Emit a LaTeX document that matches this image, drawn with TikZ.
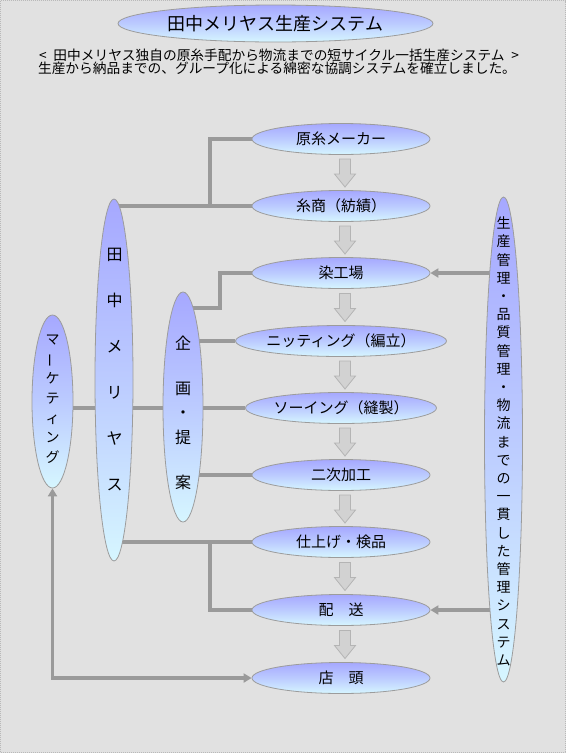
\documentclass[tikz,border=0pt]{standalone}
\usepackage{fontspec}
\usepackage{graphicx}
\newfontfamily\jp{Noto Sans CJK JP}
\usetikzlibrary{shapes.geometric,arrows.meta,calc,backgrounds}
\definecolor{bgc}{HTML}{E1E1E1}
\definecolor{topc}{HTML}{A6A8FF}
\definecolor{botc}{HTML}{D6F6FF}
\definecolor{linec}{HTML}{9A9A9A}
\definecolor{edgec}{HTML}{9C9C9C}
\definecolor{blkfill}{HTML}{D2D2D2}
\definecolor{blkdraw}{HTML}{B4B4B4}
\begin{document}
\begin{tikzpicture}[x=1pt,y=-1pt,
 oval/.style={ellipse,draw=edgec,line width=0.8pt,top color=topc,bottom color=botc,middle color=topc!55!botc,inner sep=0pt},
 stepnode/.style={oval,minimum width=178pt,minimum height=31pt,font=\jp\fontsize{15}{18}\selectfont},
 conn/.style={draw=linec,line width=3.6pt},
 tipend/.style={-{Triangle[length=8pt,width=9pt]}},
 tipboth/.style={{Triangle[length=8pt,width=9pt]}-{Triangle[length=8pt,width=9pt]}},
 blk/.style={fill=blkfill,draw=blkdraw,line width=0.8pt},
 vtext/.style={align=center,inner sep=0pt,text=black}]
\useasboundingbox (0,0) rectangle (566,753);

% title and subtitle
\node[oval,minimum width=315pt,minimum height=37pt,font=\jp\fontsize{18}{22}\selectfont] (title) at (275.5,23.5) {田中メリヤス生産システム};
\node[inner sep=0pt,font=\jp\fontsize{13.7}{16}\selectfont] (sub1) at (279,55) {<\hspace{0.5em}田中メリヤス独自の原糸手配から物流までの短サイクル一括生産システム\hspace{0.5em}>};
\node[inner sep=0pt,font=\jp\fontsize{13.7}{16}\selectfont] (sub2) at (277,68.5) {生産から納品までの、グループ化による綿密な協調システムを確立しました。};

% process steps
\node[stepnode] (genshi) at (341,139) {原糸メーカー};
\node[stepnode] (itoshou) at (341,206) {糸商（紡績）};
\node[stepnode] (senkou) at (341,273) {染工場};
\node[stepnode] (knit) at (341,341) {ニッティング（編立）};
\node[stepnode] (sewing) at (341,408) {ソーイング（縫製）};
\node[stepnode] (niji) at (341,475) {二次加工};
\node[stepnode] (shiage) at (341,542) {仕上げ・検品};
\node[stepnode] (haisou) at (341,610) {配　送};
\node[stepnode] (tento) at (341,678) {店　頭};

% vertical ovals
\node[oval,minimum width=38pt,minimum height=362pt] (tanaka) at (114,380) {};
\node[vtext,font=\jp\fontsize{16}{46}\selectfont] (tanakaT) at (114.5,370) {田\\中\\メ\\リ\\ヤ\\ス};
\node[oval,minimum width=40pt,minimum height=230pt] (kikaku) at (183,407) {};
\node[vtext,font=\jp\fontsize{16}{24.5}\selectfont] (kikakuT) at (183,412.5) {企\\[20.5pt]画\\・\\提\\[20.5pt]案};
\node[oval,minimum width=41pt,minimum height=173pt] (mkt) at (52.5,401.5) {};
\node[vtext,font=\jp\fontsize{14}{19.7}\selectfont] (mktT) at (52.5,399) {マ\\\rotatebox[origin=c]{90}{ー}\\ケ\\テ\\ィ\\ン\\グ};
\node[oval,minimum width=38pt,minimum height=485pt] (kanri) at (503.5,439.5) {};
\node[vtext,font=\jp\fontsize{14}{18.2}\selectfont] (kanriT) at (503.5,441.5) {生\\産\\管\\理\\・\\品\\質\\管\\理\\・\\物\\流\\ま\\で\\の\\一\\貫\\し\\た\\管\\理\\シ\\ス\\テ\\ム};

% block arrows
\foreach \a/\b in {genshi/itoshou,itoshou/senkou,senkou/knit,knit/sewing,sewing/niji,niji/shiage,shiage/haisou,haisou/tento}{
  \coordinate (m) at ($(\a.south)!0.5!(\b.north)+(4,0)$);
  \draw[blk] ($(m)+(-5.5,-13.5)$) -- ($(m)+(5.5,-13.5)$) -- ($(m)+(5.5,1.5)$) -- ($(m)+(10.5,1.5)$) -- ($(m)+(0,14.5)$) -- ($(m)+(-10.5,1.5)$) -- ($(m)+(-5.5,1.5)$) -- cycle;
}

\begin{pgfonlayer}{background}
\fill[bgc] (0,0) rectangle (566,753);
\draw[densely dotted,draw=gray!55,line width=1pt] (0.5,0.5) rectangle (565.5,752.5);
\coordinate (j1) at (210,206);
\coordinate (j2) at (220,308);
\coordinate (j3) at (210,542);
\draw[conn] (tanaka.center |- itoshou.west) -- (itoshou.west);
\draw[conn] (genshi.west) -| (j1);
\draw[conn] (kikaku.center |- j2) -- (j2) |- (senkou.west);
\draw[conn] (kikaku.center |- knit.west) -- (knit.west);
\draw[conn] (mkt.center |- sewing.west) -- (sewing.west);
\draw[conn] (kikaku.center |- niji.west) -- (niji.west);
\draw[conn] (tanaka.center |- shiage.west) -- (shiage.west);
\draw[conn] (j3) |- (haisou.west);
\draw[conn,tipend] (kanri.center |- senkou.east) -- (senkou.east);
\draw[conn,tipend] (kanri.center |- haisou.east) -- (haisou.east);
\draw[conn,tipboth] (mkt.south) |- (tento.west);
\end{pgfonlayer}
\end{tikzpicture}
\end{document}
